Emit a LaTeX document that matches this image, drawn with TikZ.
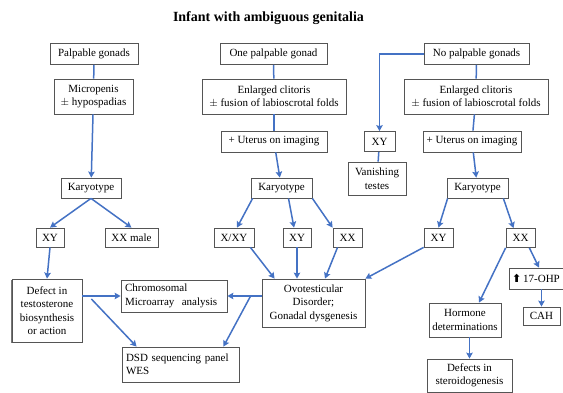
\documentclass[tikz,border=0pt]{standalone}
\usepackage{fontspec}
\setmainfont{Liberation Serif}
\newfontfamily\symfont{DejaVu Sans}
\usepackage{xcolor}
\usetikzlibrary{positioning,calc,arrows.meta,shadows}
\definecolor{arrowblue}{RGB}{68,114,196}
\definecolor{boxgray}{RGB}{85,85,85}

\begin{document}
\begin{tikzpicture}[
    x=1pt, y=-1pt,
    box/.style={rectangle, draw=boxgray, line width=0.8pt, fill=white, align=center,
        inner sep=1pt, font=\fontsize{11}{13.5}\selectfont},
    lbox/.style={box, align=left, text width=#1, inner xsep=4pt},
    conn/.style={draw=arrowblue, line width=1.5pt},
    arr/.style={conn, -{Stealth[length=6pt,width=6.5pt,inset=1pt]}}
]
    \useasboundingbox (0,0) rectangle (563,392);
    \node[font=\bfseries\fontsize{14}{16}\selectfont] (title) at (268.5,18) {Infant with ambiguous genitalia};

    % top row
    \node[box, minimum width=88pt, minimum height=21pt] (pg) at (94,54) {Palpable gonads};
    \node[box, minimum width=107pt, minimum height=21pt] (opg) at (273.5,54) {One palpable gonad};
    \node[box, minimum width=105pt, minimum height=21pt] (npg) at (476.5,54) {No palpable gonads};

    \node[box, minimum width=79pt, minimum height=35pt] (micro) at (93.5,96.5) {Micropenis\\ $\pm$ hypospadias};
    \node[box, minimum width=144pt, minimum height=35pt] (clitm) at (274,96.5) {Enlarged clitoris\\ $\pm$ fusion of labioscrotal folds};
    \node[box, minimum width=144pt, minimum height=35pt] (clitr) at (476,96.5) {Enlarged clitoris\\ $\pm$ fusion of labioscrotal folds};

    \node[box, minimum width=106pt, minimum height=21pt] (utm) at (274,141.5) {+ Uterus on imaging};
    \node[box, minimum width=98pt, minimum height=21pt] (utr) at (472,141.5) {+ Uterus on imaging};
    \node[box, minimum width=31pt, minimum height=20pt] (xyv) at (379.5,141.5) {XY};
    \node[box, minimum width=58pt, minimum height=33pt] (vanish) at (377,178.5) {Vanishing\\ testes};

    \node[box, minimum width=60pt, minimum height=20pt] (karl) at (91,188) {Karyotype};
    \node[box, minimum width=61pt, minimum height=20pt] (karm) at (281.5,188) {Karyotype};
    \node[box, minimum width=61pt, minimum height=20pt] (karr) at (477.5,188) {Karyotype};

    % karyotype results
    \node[box, minimum width=28pt, minimum height=19pt] (xyl) at (50,237.5) {XY};
    \node[box, minimum width=53pt, minimum height=19pt] (xxmale) at (131.5,237.5) {XX male};
    \node[box, minimum width=40pt, minimum height=19pt] (xxy) at (234,237.5) {X/XY};
    \node[box, minimum width=28pt, minimum height=19pt] (xym) at (297,237.5) {XY};
    \node[box, minimum width=29pt, minimum height=19pt] (xxm) at (347.5,237.5) {XX};
    \node[box, minimum width=29pt, minimum height=19pt] (xyr) at (438.5,237.5) {XY};
    \node[box, minimum width=29pt, minimum height=19pt] (xxr) at (520.5,238) {XX};

    % diagnoses
    \node[box, drop shadow={shadow xshift=-1.2pt, shadow yshift=-1.2pt, fill=boxgray, opacity=0.8},
        minimum width=70pt, minimum height=63pt] (defect) at (47,310.5) {Defect in\\ testosterone\\ biosynthesis\\ or action};
    \node[lbox=98pt, minimum height=32pt] (chrom) at (174,296) {Chromosomal\\ Microarray\ \ analysis};
    \node[lbox=109pt, minimum height=35pt] (dsd) at (180.5,364.5) {DSD sequencing panel\\ WES};
    \node[box, minimum width=103pt, minimum height=48pt] (ovo) at (313.5,303) {Ovotesticular\\ Disorder;\\ Gonadal dysgenesis};
    \node[box, minimum width=54pt, minimum height=21pt] (ohp) at (536,278.5) {{\symfont\bfseries ⬆}\,17-OHP};
    \node[box, minimum width=37pt, minimum height=18pt] (cah) at (541.5,316) {CAH};
    \node[box, minimum width=72pt, minimum height=34pt] (horm) at (465,320) {Hormone\\ determinations};
    \node[box, minimum width=85pt, minimum height=33pt] (defst) at (469.5,375.5) {Defects in\\ steroidogenesis};

    % connectors
    \draw[conn] (pg) -- (micro);
    \draw[arr] (micro) -- (karl);
    \draw[conn] (opg) -- (clitm);
    \draw[conn] (clitm) -- (utm);
    \draw[arr] (utm) -- (karm);
    \draw[conn] (npg) -- (clitr);
    \draw[conn] (clitr) -- (utr);
    \draw[arr] (utr) -- (karr);
    \draw[arr] (npg.west) -| (xyv.north);
    \draw[conn] (xyv) -- (vanish);

    \draw[arr] (karl.south) -- (xyl.north);
    \draw[arr] (karl.south) -- (xxmale.north);
    \draw[arr] (xyl.south) -- (defect.north);
    \draw[arr] (defect.east |- chrom.west) -- (chrom.west);
    \coordinate (bl) at ($(defect.east |- chrom.west)+(9,3)$);
    \draw[arr] (bl) -- ([xshift=15pt]dsd.north west);
    \draw[arr] (ovo.west |- chrom.east) -- (chrom.east);
    \coordinate (br) at ($(ovo.west |- chrom.east)+(-11,0)$);
    \draw[arr] (br) -- ([xshift=-16pt]dsd.north east);

    \draw[arr] ([xshift=2pt]karm.south west) -- ([xshift=3pt]xxy.north);
    \draw[arr] ([xshift=7pt]karm.south) -- ([xshift=-3pt]xym.north);
    \draw[arr] (karm.south east) -- (xxm.north west);
    \draw[arr] ([xshift=-4pt]xxy.south east) -- ([xshift=13pt]ovo.north west);
    \draw[arr] (xym.south) -- (xym.south |- ovo.north);
    \draw[arr] ([xshift=-10pt]xxm.south) -- ([xshift=11.5pt]ovo.north);
    \draw[arr] (xyr.south west) -- (ovo.north east);

    \draw[arr] ([xshift=1pt]karr.south west) -- (xyr.north);
    \draw[arr] ([xshift=-5pt]karr.south east) -- ([xshift=-7pt]xxr.north);
    \draw[arr] (xxr.south west) -- ([xshift=14pt]horm.north);
    \draw[arr] ([xshift=-6pt]xxr.south east) -- ([xshift=3pt]ohp.north);
    \draw[arr] (ohp.south -| cah.north) -- (cah.north);
    \draw[arr] (horm.south -| defst.north) -- (defst.north);
\end{tikzpicture}
\end{document}
